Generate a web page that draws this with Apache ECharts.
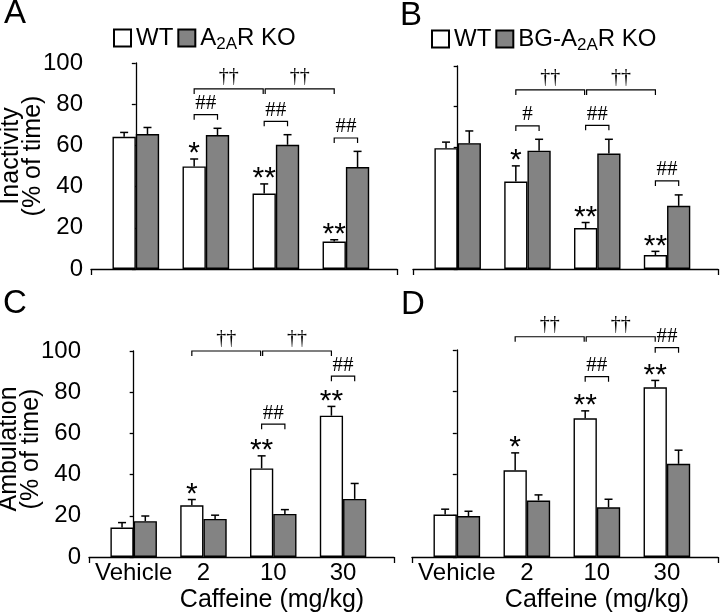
<!DOCTYPE html>
<html>
<head>
<meta charset="utf-8">
<script src="https://cdn.jsdelivr.net/npm/echarts@6/dist/echarts.min.js"></script>
<style>
  html, body { margin: 0; background: #fff; }
  #chart { width: 720px; height: 615px; }
</style>
</head>
<body>
<div id="chart"></div>
<script>
// dose groups, x = 0..3 on each panel
const doses = ['Vehicle', '2', '10', '30'];
const yTicks = [0, 20, 40, 60, 80, 100];

// A: inactivity, WT vs A2AR KO (mean, SEM)
const inactWT = [64.2, 49.8, 36.6, 13.3];
const inactWTErr = [2.1, 3.6, 4.7, 0.9];
const inactKO = [65.5, 65.0, 60.3, 49.5];
const inactKOErr = [3.2, 3.3, 4.9, 7.6];
const inactStars = ['', '*', '**', '**'];
const inactHash = ['', '##', '##', '##'];
const inactHashAt = [null, 74.9, 71.7, 63.6];
const inactDaggerAt = 87.4;

// B: inactivity, WT vs BG-A2AR KO
const inactBgWT = [59.5, 43.1, 20.2, 6.9];
const inactBgWTErr = [3.0, 7.7, 2.7, 1.8];
const inactBgKO = [62.0, 58.3, 56.9, 31.1];
const inactBgKOErr = [6.0, 5.6, 7.0, 5.4];
const inactBgStars = ['', '*', '**', '**'];
const inactBgHash = ['', '#', '##', '##'];
const inactBgHashAt = [null, 70.5, 70.8, 43.4];
const inactBgDaggerAt = 88.2;

// C: ambulation, WT vs A2AR KO
const ambWT = [14.3, 25.1, 43.0, 68.6];
const ambWTErr = [2.4, 2.8, 6.1, 4.5];
const ambKO = [17.4, 18.5, 20.9, 28.2];
const ambKOErr = [2.5, 1.8, 2.1, 7.5];
const ambStars = ['', '*', '**', '**'];
const ambHash = ['', '', '##', '##'];
const ambHashAt = [null, null, 64.5, 87.8];
const ambDaggerAt = 100;

// D: ambulation, WT vs BG-A2AR KO
const ambBgWT = [20.5, 41.9, 67.0, 82.0];
const ambBgWTErr = [2.6, 8.4, 3.6, 3.3];
const ambBgKO = [19.8, 27.3, 24.0, 45.0];
const ambBgKOErr = [2.3, 2.7, 3.9, 6.6];
const ambBgStars = ['', '*', '**', '**'];
const ambBgHash = ['', '', '##', '##'];
const ambBgHashAt = [null, null, 87.1, 101.1];
const ambBgDaggerAt = 106.4;

// dagger comparisons: 2 vs 10, 10 vs 30
const daggerPairs = [[1, 2], [2, 3]];

const SANS = 'Liberation Sans, Arial, Helvetica, sans-serif';
const SERIF = 'Liberation Serif, Times New Roman, serif';
const GRAY = '#838383';
const X_MIN = -0.64, X_MAX = 3.73;

const panels = [
  { ko: 'A2AR KO', wt: inactWT, wtErr: inactWTErr, kov: inactKO, koErr: inactKOErr,
    stars: inactStars, hash: inactHash, hashAt: inactHashAt, dagger: inactDaggerAt },
  { ko: 'BG-A2AR KO', wt: inactBgWT, wtErr: inactBgWTErr, kov: inactBgKO, koErr: inactBgKOErr,
    stars: inactBgStars, hash: inactBgHash, hashAt: inactBgHashAt, dagger: inactBgDaggerAt },
  { ko: 'A2AR KO', wt: ambWT, wtErr: ambWTErr, kov: ambKO, koErr: ambKOErr,
    stars: ambStars, hash: ambHash, hashAt: ambHashAt, dagger: ambDaggerAt },
  { ko: 'BG-A2AR KO', wt: ambBgWT, wtErr: ambBgWTErr, kov: ambBgKO, koErr: ambBgKOErr,
    stars: ambBgStars, hash: ambBgHash, hashAt: ambBgHashAt, dagger: ambBgDaggerAt }
];

const grids = [
  { left: 91, top: 63, width: 306, height: 206, outerBoundsMode: 'none' },
  { left: 413, top: 66, width: 305, height: 203, outerBoundsMode: 'none' },
  { left: 89, top: 351, width: 305, height: 206, outerBoundsMode: 'none' },
  { left: 412, top: 350, width: 306, height: 207, outerBoundsMode: 'none' }
];

function bracket(x1, x2, y) {
  return {
    type: 'polyline',
    shape: { points: [[x1, y + 5], [x1, y], [x2, y], [x2, y + 5]] },
    style: { stroke: '#000', lineWidth: 1.2, fill: null }
  };
}

function label(text, x, y, font) {
  return {
    type: 'text',
    style: { text: text, x: x, y: y, align: 'center', verticalAlign: 'middle', font: font, fill: '#000' }
  };
}

const series = [];
panels.forEach((p, k) => {
  const barStyle = (c) => ({ color: c, borderColor: '#000', borderWidth: 1.4 });
  series.push({
    name: 'WT', type: 'bar', xAxisIndex: k, yAxisIndex: k,
    barWidth: '33.3%', barGap: '0%', itemStyle: barStyle('#fff'),
    data: p.wt.map((v, i) => [i, v])
  });
  series.push({
    name: p.ko, type: 'bar', xAxisIndex: k, yAxisIndex: k,
    barWidth: '33.3%', barGap: '0%', itemStyle: barStyle(GRAY),
    data: p.kov.map((v, i) => [i, v])
  });

  // error bars (upper half only)
  const errData = [];
  doses.forEach((d, i) => {
    errData.push([i, p.wt[i], p.wtErr[i], -1]);
    errData.push([i, p.kov[i], p.koErr[i], 1]);
  });
  series.push({
    type: 'custom', xAxisIndex: k, yAxisIndex: k, silent: true, z: 3,
    data: errData,
    renderItem(params, api) {
      const x = api.value(0), v = api.value(1), e = api.value(2), side = api.value(3);
      const band = api.size([1, 0])[0];
      const base = api.coord([x, v]);
      const top = api.coord([x, v + e]);
      const cx = base[0] + side * band / 6;
      const st = { stroke: '#000', lineWidth: 1.5 };
      return {
        type: 'group',
        children: [
          { type: 'line', shape: { x1: cx, y1: base[1], x2: cx, y2: top[1] }, style: st },
          { type: 'line', shape: { x1: cx - 4, y1: top[1], x2: cx + 4, y2: top[1] }, style: st }
        ]
      };
    }
  });

  // * vs vehicle, # WT vs KO
  series.push({
    type: 'custom', xAxisIndex: k, yAxisIndex: k, silent: true, z: 4,
    data: doses.map((d, i) => [i, p.wt[i] + p.wtErr[i]]),
    renderItem(params, api) {
      const i = params.dataIndex;
      const off = api.size([1, 0])[0] / 6;
      const top = api.coord([i, api.value(1)]);
      const kids = [];
      if (p.stars[i]) kids.push(label(p.stars[i], top[0] - off, top[1] - 5, '30px ' + SANS));
      if (p.hash[i]) {
        const y = api.coord([i, p.hashAt[i]])[1];
        kids.push(bracket(top[0] - off, top[0] + off, y));
        kids.push(label(p.hash[i], top[0], y - 11, '21px ' + SERIF));
      }
      return { type: 'group', children: kids };
    }
  });

  // dagger comparisons between doses (WT)
  series.push({
    type: 'custom', xAxisIndex: k, yAxisIndex: k, silent: true, z: 4,
    encode: { x: [0, 1], y: 2 },
    data: daggerPairs.map(d => [d[0], d[1], p.dagger]),
    renderItem(params, api) {
      const off = api.size([1, 0])[0] / 6;
      const a = api.coord([api.value(0), api.value(2)]);
      const b = api.coord([api.value(1), api.value(2)]);
      const x1 = a[0] - off + (params.dataIndex > 0 ? 1 : 0);
      const x2 = b[0] - off - (params.dataIndex === 0 ? 1 : 0);
      return {
        type: 'group',
        children: [bracket(x1, x2, a[1]), label('\u2020\u2020', (x1 + x2) / 2, a[1] - 12, '20px ' + SERIF)]
      };
    }
  });
});

const xAxes = grids.map((g, k) => ({
  type: 'value', gridIndex: k, min: X_MIN, max: X_MAX,
  splitLine: { show: false },
  axisLine: { onZero: false, lineStyle: { color: '#000', width: 1.3 } },
  axisTick: { show: true, customValues: [X_MIN, X_MAX], length: 6, lineStyle: { color: '#000', width: 1.3 } },
  axisLabel: {
    show: k >= 2, customValues: [0, 1, 2, 3], margin: 4,
    formatter: v => doses[Math.round(v)], fontSize: 24, color: '#000', fontFamily: SANS
  }
}));

const yNames = ['Inactivity\n(% of time)', '', 'Ambulation\n(% of time)', ''];
const yAxes = grids.map((g, k) => ({
  type: 'value', gridIndex: k,
  min: yTicks[0], max: yTicks[yTicks.length - 1], interval: yTicks[1] - yTicks[0],
  splitLine: { show: false },
  axisLine: { show: true, lineStyle: { color: '#000', width: 1.3 } },
  axisTick: { show: true, length: 4, lineStyle: { color: '#000', width: 1.3 } },
  axisLabel: { show: k % 2 === 0, fontSize: 24, color: '#000', fontFamily: SANS, margin: 8 },
  name: yNames[k], nameLocation: 'middle', nameGap: 47, nameMoveOverlap: false,
  nameTextStyle: { fontSize: 25, lineHeight: 22, color: '#000', fontFamily: SANS,
    padding: k === 0 ? [0, 0, 0, 20] : [0, 0, 0, 10] }
}));

const legendRich = {
  n: { fontSize: 24, color: '#000', fontFamily: SANS, lineHeight: 30 },
  s: { fontSize: 17, color: '#000', fontFamily: SANS, verticalAlign: 'bottom', lineHeight: 16 }
};
const legendFmt = name => name === 'WT' ? '{n|WT}' : '{n|' + name.replace('A2AR KO', 'A') + '}{s|2A}{n|R KO}';

const titleStyle = { fontSize: 33, fontWeight: 'normal', color: '#000', fontFamily: SANS };
const axisTitleStyle = { fontSize: 25, fontWeight: 'normal', color: '#000', fontFamily: SANS };

const chart = echarts.init(document.getElementById('chart'));
chart.setOption({
  animation: false,
  backgroundColor: '#fff',
  title: [
    { text: 'A', left: 4, top: -3, padding: 0, textStyle: titleStyle },
    { text: 'B', left: 400, top: -1, padding: 0, textStyle: titleStyle },
    { text: 'C', left: 3, top: 287, padding: 0, textStyle: titleStyle },
    { text: 'D', left: 401, top: 288, padding: 0, textStyle: titleStyle },
    { text: 'Caffeine (mg/kg)', left: 272, top: 588, padding: 0, textAlign: 'center', textStyle: axisTitleStyle },
    { text: 'Caffeine (mg/kg)', left: 597, top: 588, padding: 0, textAlign: 'center', textStyle: axisTitleStyle }
  ],
  legend: [
    { data: ['WT', 'A2AR KO'], left: 113, top: 26, padding: 0, icon: 'rect', itemWidth: 17, itemHeight: 17,
      itemGap: 4, formatter: legendFmt, textStyle: { rich: legendRich } },
    { data: ['WT', 'BG-A2AR KO'], left: 431, top: 27, padding: 0, icon: 'rect', itemWidth: 17, itemHeight: 17,
      itemGap: 4, formatter: legendFmt, textStyle: { rich: legendRich } }
  ],
  grid: grids,
  xAxis: xAxes,
  yAxis: yAxes,
  series: series
});
</script>
</body>
</html>
